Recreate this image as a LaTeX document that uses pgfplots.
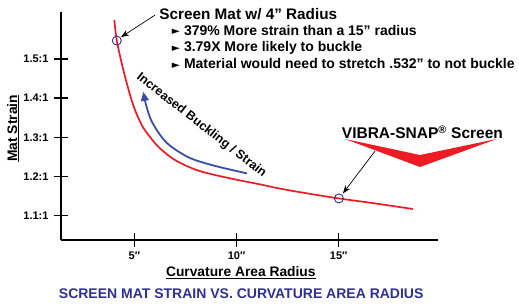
\documentclass[border=0pt]{standalone}
\usepackage{fontspec}
\setmainfont{Liberation Sans}
\newfontfamily\dejavu{DejaVu Sans}
\usepackage{pgfplots}
\pgfplotsset{compat=1.18}
\usetikzlibrary{arrows.meta}
\definecolor{cred}{HTML}{ED1C24}
\definecolor{cblue}{HTML}{3A4DA6}
\definecolor{cnavy}{HTML}{2E3192}
\newcommand{\bul}{\raisebox{0.3pt}{\dejavu\fontsize{10.5}{10}\selectfont ►}\hspace{4pt}}
\begin{document}
\begin{tikzpicture}
\useasboundingbox (-61pt,-67pt) rectangle (458pt,240pt);
\begin{axis}[
  at={(0,0)}, anchor=south west,
  scale only axis, width=377pt, height=228pt,
  xmin=1.41, xmax=19.86, ymin=1.0379, ymax=1.62,
  axis lines*=left,
  axis line style={line width=1.6pt},
  xtick={5,10,15}, xticklabels={5″,10″,15″},
  ytick={1.1,1.2,1.3,1.4,1.5}, yticklabels={1.1:1,1.2:1,1.3:1,1.4:1,1.5:1},
  tick align=center, major tick length=14pt,
  major tick style={line width=1.6pt, black},
  tick label style={font=\fontsize{11}{12}\selectfont\bfseries},
  yticklabel style={xshift=-2pt},
  xticklabel style={yshift=-1pt},
  clip=false,
  xlabel={\underline{Curvature Area Radius}},
  ylabel={\underline{Mat Strain}},
  label style={font=\fontsize{13.8}{15}\selectfont\bfseries},
  xlabel style={at={(axis description cs:0.477,-0.143)}, anchor=center},
  ylabel style={at={(axis description cs:-0.127,0.49)}, anchor=center},
]
% red strain curve
\addplot[cred, line width=1.7pt, smooth] coordinates {
(4.02,1.600) (4.14,1.547) (4.46,1.472) (4.79,1.408) (5.03,1.370) (5.28,1.340)
(5.52,1.318) (6.17,1.276) (6.99,1.242) (7.97,1.218) (8.85,1.205) (10.17,1.190)
(11.15,1.180) (12.13,1.169) (13.45,1.157) (15.01,1.144) (16.68,1.132) (18.63,1.117)};
% blue arrow
\addplot[cblue, line width=1.8pt, smooth, -{Triangle[length=9pt,width=8pt]}] coordinates {
(10.51,1.208) (8.95,1.227) (7.73,1.247) (6.76,1.278) (6.26,1.306) (5.82,1.344) (5.57,1.383) (5.44,1.416)};
% circles
\addplot[only marks, mark=o, mark size=4.5pt, mark options={cnavy, line width=0.9pt}] coordinates {(4.14,1.547) (15.01,1.144)};
% chevron
\addplot[fill=cred, draw=none] coordinates {(15.31,1.2958) (18.98,1.2549) (22.74,1.2958) (18.98,1.2243)} -- cycle;
% pointer arrows
\addplot[black, line width=0.7pt, -{Stealth[length=8pt,width=6pt]}] coordinates {(6.01,1.612) (4.35,1.556)};
\addplot[black, line width=0.7pt, -{Stealth[length=8pt,width=6pt]}] coordinates {(16.78,1.265) (15.21,1.157)};
% texts
\node[anchor=base west, font=\fontsize{15.3}{16}\selectfont\bfseries, inner sep=0pt] at (axis cs:6.22,1.602) {Screen Mat w/ 4” Radius};
\node[anchor=base west, font=\fontsize{14}{15}\selectfont\bfseries, inner sep=0pt] at (axis cs:6.83,1.561) {\bul 379\% More strain than a 15” radius};
\node[anchor=base west, font=\fontsize{14}{15}\selectfont\bfseries, inner sep=0pt] at (axis cs:6.83,1.519) {\bul 3.79X More likely to buckle};
\node[anchor=base west, font=\fontsize{14}{15}\selectfont\bfseries, inner sep=0pt] at (axis cs:6.83,1.476) {\bul Material would need to stretch .532” to not buckle};
\node[anchor=base west, font=\fontsize{15.5}{16}\selectfont\bfseries, inner sep=0pt] at (axis cs:15.15,1.2976) {VIBRA-SNAP\textsuperscript{®} Screen};
\node[rotate=-38, font=\fontsize{12.5}{13}\selectfont\bfseries, inner sep=0pt] at (axis cs:8.28,1.330) {Increased Buckling / Strain};
\node[font=\fontsize{14}{15}\selectfont\bfseries, text=cnavy, anchor=center] at (axis description cs:0.478,-0.234) {SCREEN MAT STRAIN VS. CURVATURE AREA RADIUS};
\end{axis}
\end{tikzpicture}
\end{document}
